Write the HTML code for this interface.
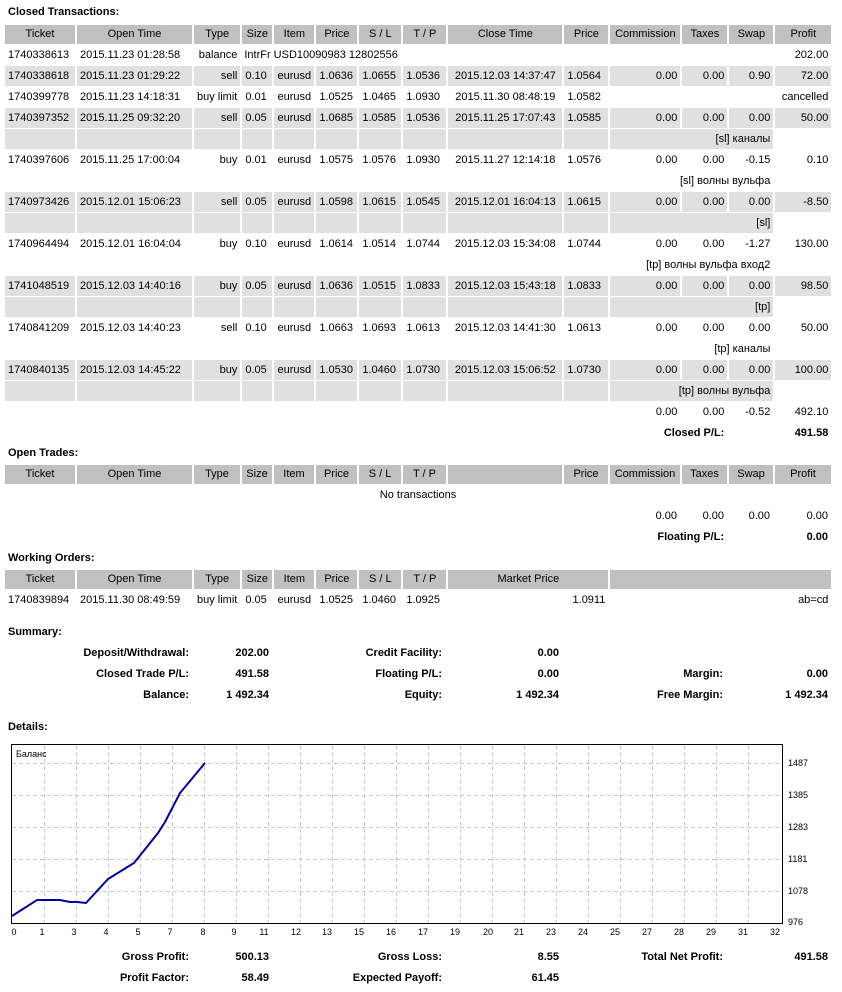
<!DOCTYPE html>
<html><head><meta charset="utf-8">
<style>
body{margin:0;width:842px;height:992px;position:relative;background:#fff;font-family:"Liberation Sans","DejaVu Sans",sans-serif;font-size:11px;color:#000;overflow:hidden}
.a{position:absolute;white-space:nowrap}
.b{font-weight:bold}
table{position:absolute;left:3px;border-collapse:separate;border-spacing:2px 1px;table-layout:fixed;font-size:11px}
td{height:20px;padding:0 3px;white-space:nowrap;overflow:visible;line-height:20px}
tr.h td{background:#c0c0c0;text-align:center;height:19px;line-height:19px}
tr.g td{background:#e0e0e0}
tr.g td.w{background:#fff}
.r{text-align:right}.c{text-align:center}.l{text-align:left}
</style></head><body>
<div class="a b" style="left:8px;top:6px">Closed Transactions:</div>
<table style="top:24px">
<colgroup><col style="width:70px"><col style="width:115px"><col style="width:46px"><col style="width:30px"><col style="width:40px"><col style="width:41px"><col style="width:42px"><col style="width:43px"><col style="width:114px"><col style="width:44px"><col style="width:70px"><col style="width:45px"><col style="width:44px"><col style="width:56px"></colgroup>
<tr class="h"><td>Ticket</td><td>Open Time</td><td>Type</td><td>Size</td><td>Item</td><td>Price</td><td>S / L</td><td>T / P</td><td>Close Time</td><td>Price</td><td>Commission</td><td>Taxes</td><td>Swap</td><td>Profit</td></tr>
<tr><td>1740338613</td><td>2015.11.23 01:28:58</td><td class="r">balance</td><td colspan="6" class="l" style="padding-left:2px">IntrFr USD10090983 12802556</td><td></td><td colspan="3"></td><td class="r">202.00</td></tr>
<tr class="g"><td>1740338618</td><td>2015.11.23 01:29:22</td><td class="r">sell</td><td>0.10</td><td class="c">eurusd</td><td>1.0636</td><td>1.0655</td><td>1.0536</td><td class="c">2015.12.03 14:37:47</td><td>1.0564</td><td class="r">0.00</td><td class="r">0.00</td><td class="r">0.90</td><td class="r">72.00</td></tr>
<tr><td>1740399778</td><td>2015.11.23 14:18:31</td><td class="r">buy limit</td><td>0.01</td><td class="c">eurusd</td><td>1.0525</td><td>1.0465</td><td>1.0930</td><td class="c">2015.11.30 08:48:19</td><td>1.0582</td><td colspan="4" class="r">cancelled</td></tr>
<tr class="g"><td>1740397352</td><td>2015.11.25 09:32:20</td><td class="r">sell</td><td>0.05</td><td class="c">eurusd</td><td>1.0685</td><td>1.0585</td><td>1.0536</td><td class="c">2015.11.25 17:07:43</td><td>1.0585</td><td class="r">0.00</td><td class="r">0.00</td><td class="r">0.00</td><td class="r">50.00</td></tr>
<tr class="g"><td></td><td></td><td></td><td></td><td></td><td></td><td></td><td></td><td></td><td></td><td colspan="3" class="r">[sl] каналы</td><td class="w"></td></tr>
<tr><td>1740397606</td><td>2015.11.25 17:00:04</td><td class="r">buy</td><td>0.01</td><td class="c">eurusd</td><td>1.0575</td><td>1.0576</td><td>1.0930</td><td class="c">2015.11.27 12:14:18</td><td>1.0576</td><td class="r">0.00</td><td class="r">0.00</td><td class="r">-0.15</td><td class="r">0.10</td></tr>
<tr><td colspan="10"></td><td colspan="3" class="r">[sl] волны вульфа</td><td></td></tr>
<tr class="g"><td>1740973426</td><td>2015.12.01 15:06:23</td><td class="r">sell</td><td>0.05</td><td class="c">eurusd</td><td>1.0598</td><td>1.0615</td><td>1.0545</td><td class="c">2015.12.01 16:04:13</td><td>1.0615</td><td class="r">0.00</td><td class="r">0.00</td><td class="r">0.00</td><td class="r">-8.50</td></tr>
<tr class="g"><td></td><td></td><td></td><td></td><td></td><td></td><td></td><td></td><td></td><td></td><td colspan="3" class="r">[sl]</td><td class="w"></td></tr>
<tr><td>1740964494</td><td>2015.12.01 16:04:04</td><td class="r">buy</td><td>0.10</td><td class="c">eurusd</td><td>1.0614</td><td>1.0514</td><td>1.0744</td><td class="c">2015.12.03 15:34:08</td><td>1.0744</td><td class="r">0.00</td><td class="r">0.00</td><td class="r">-1.27</td><td class="r">130.00</td></tr>
<tr><td colspan="10"></td><td colspan="3" class="r">[tp] волны вульфа вход2</td><td></td></tr>
<tr class="g"><td>1741048519</td><td>2015.12.03 14:40:16</td><td class="r">buy</td><td>0.05</td><td class="c">eurusd</td><td>1.0636</td><td>1.0515</td><td>1.0833</td><td class="c">2015.12.03 15:43:18</td><td>1.0833</td><td class="r">0.00</td><td class="r">0.00</td><td class="r">0.00</td><td class="r">98.50</td></tr>
<tr class="g"><td></td><td></td><td></td><td></td><td></td><td></td><td></td><td></td><td></td><td></td><td colspan="3" class="r">[tp]</td><td class="w"></td></tr>
<tr><td>1740841209</td><td>2015.12.03 14:40:23</td><td class="r">sell</td><td>0.10</td><td class="c">eurusd</td><td>1.0663</td><td>1.0693</td><td>1.0613</td><td class="c">2015.12.03 14:41:30</td><td>1.0613</td><td class="r">0.00</td><td class="r">0.00</td><td class="r">0.00</td><td class="r">50.00</td></tr>
<tr><td colspan="10"></td><td colspan="3" class="r">[tp] каналы</td><td></td></tr>
<tr class="g"><td>1740840135</td><td>2015.12.03 14:45:22</td><td class="r">buy</td><td>0.05</td><td class="c">eurusd</td><td>1.0530</td><td>1.0460</td><td>1.0730</td><td class="c">2015.12.03 15:06:52</td><td>1.0730</td><td class="r">0.00</td><td class="r">0.00</td><td class="r">0.00</td><td class="r">100.00</td></tr>
<tr class="g"><td></td><td></td><td></td><td></td><td></td><td></td><td></td><td></td><td></td><td></td><td colspan="3" class="r">[tp] волны вульфа</td><td class="w"></td></tr>
<tr><td colspan="10"></td><td class="r">0.00</td><td class="r">0.00</td><td class="r">-0.52</td><td class="r">492.10</td></tr>
<tr><td colspan="10"></td><td colspan="2" class="r b">Closed P/L:</td><td></td><td class="r b">491.58</td></tr>
</table>

<div class="a b" style="left:8px;top:447px">Open Trades:</div>
<table style="top:464px">
<colgroup><col style="width:70px"><col style="width:115px"><col style="width:46px"><col style="width:30px"><col style="width:40px"><col style="width:41px"><col style="width:42px"><col style="width:43px"><col style="width:114px"><col style="width:44px"><col style="width:70px"><col style="width:45px"><col style="width:44px"><col style="width:56px"></colgroup>
<tr class="h"><td>Ticket</td><td>Open Time</td><td>Type</td><td>Size</td><td>Item</td><td>Price</td><td>S / L</td><td>T / P</td><td></td><td>Price</td><td>Commission</td><td>Taxes</td><td>Swap</td><td>Profit</td></tr>
<tr><td colspan="14" class="c">No transactions</td></tr>
<tr><td colspan="10"></td><td class="r">0.00</td><td class="r">0.00</td><td class="r">0.00</td><td class="r">0.00</td></tr>
<tr><td colspan="10"></td><td colspan="2" class="r b">Floating P/L:</td><td></td><td class="r b">0.00</td></tr>
</table>

<div class="a b" style="left:8px;top:552px">Working Orders:</div>
<table style="top:569px">
<colgroup><col style="width:70px"><col style="width:115px"><col style="width:46px"><col style="width:30px"><col style="width:40px"><col style="width:41px"><col style="width:42px"><col style="width:43px"><col style="width:114px"><col style="width:44px"><col style="width:70px"><col style="width:45px"><col style="width:44px"><col style="width:56px"></colgroup>
<tr class="h"><td>Ticket</td><td>Open Time</td><td>Type</td><td>Size</td><td>Item</td><td>Price</td><td>S / L</td><td>T / P</td><td colspan="2">Market Price</td><td colspan="4"></td></tr>
<tr><td>1740839894</td><td>2015.11.30 08:49:59</td><td class="r">buy limit</td><td>0.05</td><td class="c">eurusd</td><td>1.0525</td><td>1.0460</td><td>1.0925</td><td colspan="2" class="r">1.0911</td><td colspan="4" class="r">ab=cd</td></tr>
</table>

<div class="a b" style="left:8px;top:626px">Summary:</div>
<div class="a b" style="right:653px;top:647px">Deposit/Withdrawal:</div><div class="a b" style="right:573px;top:647px">202.00</div>
<div class="a b" style="right:400px;top:647px">Credit Facility:</div><div class="a b" style="right:283px;top:647px">0.00</div>
<div class="a b" style="right:653px;top:668px">Closed Trade P/L:</div><div class="a b" style="right:573px;top:668px">491.58</div>
<div class="a b" style="right:400px;top:668px">Floating P/L:</div><div class="a b" style="right:283px;top:668px">0.00</div>
<div class="a b" style="right:119px;top:668px">Margin:</div><div class="a b" style="right:14px;top:668px">0.00</div>
<div class="a b" style="right:653px;top:689px">Balance:</div><div class="a b" style="right:573px;top:689px">1 492.34</div>
<div class="a b" style="right:400px;top:689px">Equity:</div><div class="a b" style="right:283px;top:689px">1 492.34</div>
<div class="a b" style="right:119px;top:689px">Free Margin:</div><div class="a b" style="right:14px;top:689px">1 492.34</div>

<div class="a b" style="left:8px;top:721px">Details:</div>

<svg class="a" style="left:0;top:0" width="842" height="992" font-family="Liberation Sans, DejaVu Sans, sans-serif" font-size="9">
<g stroke="#c8c8c8" stroke-dasharray="4,3" stroke-width="1">
<line x1="12" y1="763.5" x2="782" y2="763.5"/><line x1="12" y1="795.5" x2="782" y2="795.5"/><line x1="12" y1="827.5" x2="782" y2="827.5"/><line x1="12" y1="859.5" x2="782" y2="859.5"/><line x1="12" y1="891.5" x2="782" y2="891.5"/>
<line x1="44.5" y1="745" x2="44.5" y2="923"/><line x1="76.5" y1="745" x2="76.5" y2="923"/><line x1="108.5" y1="745" x2="108.5" y2="923"/><line x1="140.5" y1="745" x2="140.5" y2="923"/><line x1="172.5" y1="745" x2="172.5" y2="923"/><line x1="204.5" y1="745" x2="204.5" y2="923"/><line x1="236.5" y1="745" x2="236.5" y2="923"/><line x1="268.5" y1="745" x2="268.5" y2="923"/><line x1="300.5" y1="745" x2="300.5" y2="923"/><line x1="332.5" y1="745" x2="332.5" y2="923"/><line x1="364.5" y1="745" x2="364.5" y2="923"/><line x1="396.5" y1="745" x2="396.5" y2="923"/><line x1="428.5" y1="745" x2="428.5" y2="923"/><line x1="460.5" y1="745" x2="460.5" y2="923"/><line x1="492.5" y1="745" x2="492.5" y2="923"/><line x1="524.5" y1="745" x2="524.5" y2="923"/><line x1="556.5" y1="745" x2="556.5" y2="923"/><line x1="588.5" y1="745" x2="588.5" y2="923"/><line x1="620.5" y1="745" x2="620.5" y2="923"/><line x1="652.5" y1="745" x2="652.5" y2="923"/><line x1="684.5" y1="745" x2="684.5" y2="923"/><line x1="716.5" y1="745" x2="716.5" y2="923"/><line x1="748.5" y1="745" x2="748.5" y2="923"/>
</g>
<rect x="11.5" y="744.5" width="771" height="179" fill="none" stroke="#000"/>
<text x="16" y="757">Баланс</text>
<polyline fill="none" stroke="#0000a0" stroke-width="2" points="12,916 37,900 60,900 70,902 77,902 86,903 108,879 134,863 158,833 165,822 180,793 205,763"/>
<g text-anchor="start"><text x="788" y="766">1487</text><text x="788" y="798">1385</text><text x="788" y="830">1283</text><text x="788" y="862">1181</text><text x="788" y="894">1078</text><text x="788" y="925">976</text></g>
<g text-anchor="middle">
<text x="14" y="935">0</text><text x="42" y="935">1</text><text x="74" y="935">3</text><text x="106" y="935">4</text><text x="138" y="935">5</text><text x="170" y="935">7</text><text x="203" y="935">8</text><text x="234" y="935">9</text><text x="264" y="935">11</text><text x="296" y="935">12</text><text x="327" y="935">13</text><text x="359" y="935">15</text><text x="391" y="935">16</text><text x="423" y="935">17</text><text x="455" y="935">19</text><text x="488" y="935">20</text><text x="519" y="935">21</text><text x="551" y="935">23</text><text x="583" y="935">24</text><text x="615" y="935">25</text><text x="647" y="935">27</text><text x="679" y="935">28</text><text x="711" y="935">29</text><text x="743" y="935">31</text><text x="775" y="935">32</text>
</g>
</svg>

<div class="a b" style="right:653px;top:951px">Gross Profit:</div><div class="a b" style="right:573px;top:951px">500.13</div>
<div class="a b" style="right:400px;top:951px">Gross Loss:</div><div class="a b" style="right:283px;top:951px">8.55</div>
<div class="a b" style="right:119px;top:951px">Total Net Profit:</div><div class="a b" style="right:14px;top:951px">491.58</div>
<div class="a b" style="right:653px;top:972px">Profit Factor:</div><div class="a b" style="right:573px;top:972px">58.49</div>
<div class="a b" style="right:400px;top:972px">Expected Payoff:</div><div class="a b" style="right:283px;top:972px">61.45</div>
</body></html>
